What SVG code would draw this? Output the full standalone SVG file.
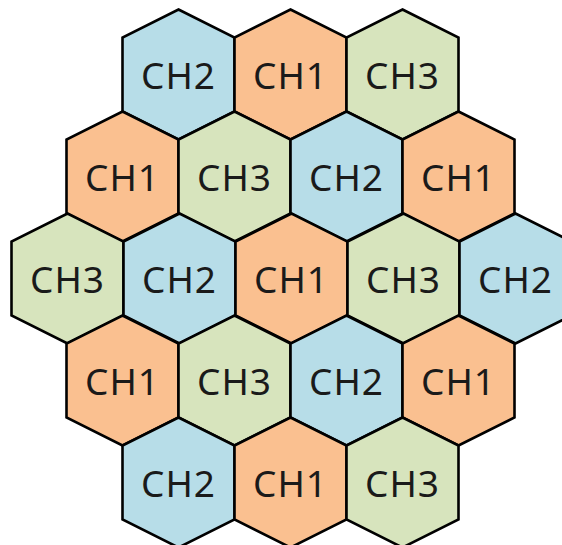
<svg xmlns="http://www.w3.org/2000/svg" xmlns:xlink="http://www.w3.org/1999/xlink" width="562" height="545" viewBox="0 0 562 545">
<style>
.hex{stroke:#000;stroke-width:2.6;stroke-linejoin:miter}
.b{fill:#B7DDE8}
.o{fill:#FAC090}
.g{fill:#D7E4BD}
text{font-family:"Noto Sans","DejaVu Sans",sans-serif;font-size:37px;letter-spacing:1px;fill:#1a1a1a;text-anchor:middle}
</style>
<defs>
<polygon id="hx" points="0,-65 56,-37 56,37 0,65 -56,37 -56,-37"/>
</defs>
<rect width="562" height="545" fill="#fff"/>
<g id="nodes">
<g id="r1c1" transform="translate(178.5,74.5)"><use href="#hx" class="hex b"/><text y="14">CH2</text></g>
<g id="r1c2" transform="translate(290.5,74.5)"><use href="#hx" class="hex o"/><text y="14">CH1</text></g>
<g id="r1c3" transform="translate(402.5,74.5)"><use href="#hx" class="hex g"/><text y="14">CH3</text></g>

<g id="r2c1" transform="translate(122.5,176.5)"><use href="#hx" class="hex o"/><text y="14">CH1</text></g>
<g id="r2c2" transform="translate(234.5,176.5)"><use href="#hx" class="hex g"/><text y="14">CH3</text></g>
<g id="r2c3" transform="translate(346.5,176.5)"><use href="#hx" class="hex b"/><text y="14">CH2</text></g>
<g id="r2c4" transform="translate(458.5,176.5)"><use href="#hx" class="hex o"/><text y="14">CH1</text></g>

<g id="r3c1" transform="translate(67.5,278.5)"><use href="#hx" class="hex g"/><text y="14">CH3</text></g>
<g id="r3c2" transform="translate(179.5,278.5)"><use href="#hx" class="hex b"/><text y="14">CH2</text></g>
<g id="r3c3" transform="translate(291.5,278.5)"><use href="#hx" class="hex o"/><text y="14">CH1</text></g>
<g id="r3c4" transform="translate(403.5,278.5)"><use href="#hx" class="hex g"/><text y="14">CH3</text></g>
<g id="r3c5" transform="translate(515.5,278.5)"><use href="#hx" class="hex b"/><text y="14">CH2</text></g>

<g id="r4c1" transform="translate(122.5,380.5)"><use href="#hx" class="hex o"/><text y="14">CH1</text></g>
<g id="r4c2" transform="translate(234.5,380.5)"><use href="#hx" class="hex g"/><text y="14">CH3</text></g>
<g id="r4c3" transform="translate(346.5,380.5)"><use href="#hx" class="hex b"/><text y="14">CH2</text></g>
<g id="r4c4" transform="translate(458.5,380.5)"><use href="#hx" class="hex o"/><text y="14">CH1</text></g>

<g id="r5c1" transform="translate(178.5,482.5)"><use href="#hx" class="hex b"/><text y="14">CH2</text></g>
<g id="r5c2" transform="translate(290.5,482.5)"><use href="#hx" class="hex o"/><text y="14">CH1</text></g>
<g id="r5c3" transform="translate(402.5,482.5)"><use href="#hx" class="hex g"/><text y="14">CH3</text></g>
</g>
<g id="connectors"/>
</svg>
